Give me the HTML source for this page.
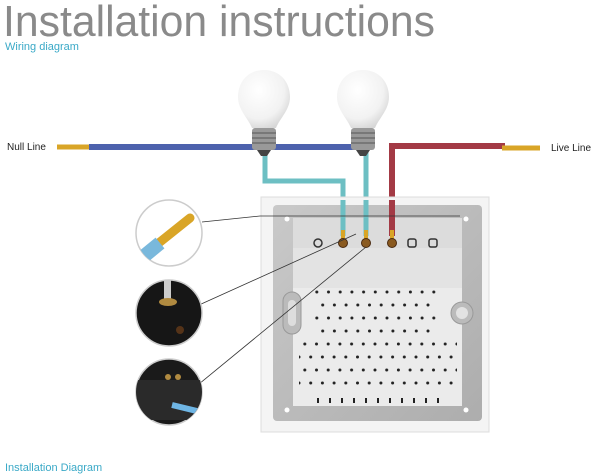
<!DOCTYPE html>
<html><head><meta charset="utf-8"><style>
html,body{margin:0;padding:0;background:#fff;width:600px;height:476px;overflow:hidden}
</style></head><body>
<svg width="600" height="476" viewBox="0 0 600 476" xmlns="http://www.w3.org/2000/svg">
<defs>
<radialGradient id="bulb" cx="0.4" cy="0.35" r="0.7"><stop offset="0" stop-color="#ffffff"/><stop offset="0.7" stop-color="#f2f2f2"/><stop offset="1" stop-color="#d6d6d6"/></radialGradient>
<pattern id="dotsA" x="311" y="287" width="11.7" height="26" patternUnits="userSpaceOnUse"><circle cx="5.8" cy="5" r="1.5" fill="#222"/><circle cx="0" cy="18" r="1.5" fill="#222"/><circle cx="11.7" cy="18" r="1.5" fill="#222"/></pattern>
<pattern id="dotsB" x="299" y="339" width="11.7" height="26" patternUnits="userSpaceOnUse"><circle cx="5.8" cy="5" r="1.5" fill="#222"/><circle cx="0" cy="18" r="1.5" fill="#222"/><circle cx="11.7" cy="18" r="1.5" fill="#222"/></pattern>
<linearGradient id="frame" x1="0" y1="0" x2="1" y2="1"><stop offset="0" stop-color="#c9c9c9"/><stop offset="1" stop-color="#adadad"/></linearGradient>
<clipPath id="c1"><circle cx="169" cy="233" r="33"/></clipPath>
<clipPath id="c2"><circle cx="169" cy="313" r="33"/></clipPath>
<clipPath id="c3"><circle cx="169" cy="392" r="33"/></clipPath>
</defs>
<text x="3" y="36" font-family="Liberation Sans, sans-serif" font-size="44" fill="#8a8a8a" textLength="432" lengthAdjust="spacingAndGlyphs">Installation instructions</text>
<text x="5" y="50" font-family="Liberation Sans, sans-serif" font-size="11" fill="#3aa9c7">Wiring diagram</text>
<text x="7" y="150" font-family="Liberation Sans, sans-serif" font-size="10" fill="#222">Null Line</text>
<text x="551" y="151" font-family="Liberation Sans, sans-serif" font-size="10" fill="#222">Live Line</text>
<rect x="57" y="144.5" width="32" height="5" fill="#d9a527"/>
<rect x="89" y="144" width="266" height="6" fill="#4d62ad"/>
<path d="M505 146 H392 V236" fill="none" stroke="#a33a45" stroke-width="6"/>
<rect x="502" y="145.5" width="38" height="5" fill="#d9a527"/>
<path d="M265 152 V181 H343 V236" fill="none" stroke="#6dbfc3" stroke-width="5"/>
<path d="M366 152 V236" fill="none" stroke="#6dbfc3" stroke-width="5"/>
<g>
<path d="M264 70 C248 70 238 82 238 97 C238 110 248 118 252 128 H276 C280 118 290 110 290 97 C290 82 280 70 264 70Z" fill="url(#bulb)"/>
<rect x="252" y="128" width="24" height="22" rx="3" fill="#999"/>
<g stroke="#666" stroke-width="1.2"><line x1="252" y1="133" x2="276" y2="133"/><line x1="252" y1="138" x2="276" y2="138"/><line x1="252" y1="143" x2="276" y2="143"/></g>
<path d="M257 150 H271 L267 156 H261Z" fill="#444"/>
</g>
<g>
<path d="M363 70 C347 70 337 82 337 97 C337 110 347 118 351 128 H375 C379 118 389 110 389 97 C389 82 379 70 363 70Z" fill="url(#bulb)"/>
<rect x="351" y="128" width="24" height="22" rx="3" fill="#999"/>
<g stroke="#666" stroke-width="1.2"><line x1="351" y1="133" x2="375" y2="133"/><line x1="351" y1="138" x2="375" y2="138"/><line x1="351" y1="143" x2="375" y2="143"/></g>
<path d="M356 150 H370 L366 156 H360Z" fill="#444"/>
</g>
<rect x="261" y="197" width="228" height="235" fill="#f4f4f4" stroke="#ddd"/>
<rect x="273" y="205" width="209" height="216" rx="4" fill="url(#frame)"/>
<rect x="293" y="218" width="169" height="188" fill="#ebebeb"/>
<rect x="293" y="218" width="169" height="30" fill="#dcdcdc"/>
<rect x="293" y="248" width="169" height="40" fill="#e3e3e3"/>
<rect x="340.5" y="200" width="5" height="36" fill="#6dbfc3"/>
<rect x="363.5" y="200" width="5" height="36" fill="#6dbfc3"/>
<rect x="389" y="200" width="6" height="36" fill="#a33a45"/>
<rect x="341" y="230" width="4" height="10" fill="#d9a527"/>
<rect x="364" y="230" width="4" height="10" fill="#d9a527"/>
<rect x="390" y="230" width="4" height="10" fill="#d9a527"/>
<circle cx="318" cy="243" r="4" fill="none" stroke="#333" stroke-width="1.5"/>
<circle cx="343" cy="243" r="4.5" fill="#8a5a20" stroke="#4a2a10"/>
<circle cx="366" cy="243" r="4.5" fill="#8a5a20" stroke="#4a2a10"/>
<circle cx="392" cy="243" r="4.5" fill="#8a5a20" stroke="#4a2a10"/>
<rect x="408" y="239" width="8" height="8" rx="2" fill="none" stroke="#333" stroke-width="1.5"/>
<rect x="429" y="239" width="8" height="8" rx="2" fill="none" stroke="#333" stroke-width="1.5"/>
<rect x="313" y="288" width="125" height="52" fill="url(#dotsA)"/>
<rect x="299" y="340" width="158" height="54" fill="url(#dotsB)"/>
<g fill="#222"><rect x="317" y="398" width="2" height="5"/><rect x="329" y="398" width="2" height="5"/><rect x="341" y="398" width="2" height="5"/><rect x="353" y="398" width="2" height="5"/><rect x="365" y="398" width="2" height="5"/><rect x="377" y="398" width="2" height="5"/><rect x="389" y="398" width="2" height="5"/><rect x="401" y="398" width="2" height="5"/><rect x="413" y="398" width="2" height="5"/><rect x="425" y="398" width="2" height="5"/><rect x="437" y="398" width="2" height="5"/></g>
<rect x="283" y="292" width="18" height="42" rx="9" fill="#bbb" stroke="#999"/>
<rect x="288" y="300" width="8" height="26" rx="4" fill="#ddd"/>
<circle cx="462" cy="313" r="11" fill="#bbb" stroke="#999"/>
<circle cx="462" cy="313" r="6" fill="#e2e2e2"/>
<circle cx="287" cy="219" r="2.5" fill="#fff"/><circle cx="466" cy="219" r="2.5" fill="#fff"/>
<circle cx="287" cy="410" r="2.5" fill="#fff"/><circle cx="466" cy="410" r="2.5" fill="#fff"/>
<g stroke="#333" stroke-width="0.8" fill="none">
<path d="M202 222 L260 216 H460"/>
<path d="M199 305 L356 234"/>
<path d="M199 384 L366 247"/>
</g>
<circle cx="169" cy="233" r="33" fill="#fff" stroke="#ccc" stroke-width="1.5"/>
<g clip-path="url(#c1)">
<path d="M150 250 L190 218" stroke="#d9a527" stroke-width="9" stroke-linecap="round"/>
<path d="M132 266 L160 243" stroke="#79b8dc" stroke-width="14"/>
</g>
<circle cx="169" cy="313" r="33" fill="#161616" stroke="#ccc" stroke-width="1.5"/>
<g clip-path="url(#c2)">
<rect x="164" y="278" width="7" height="22" fill="#ccc"/>
<ellipse cx="168" cy="302" rx="9" ry="4" fill="#b08a40"/>
<circle cx="180" cy="330" r="4" fill="#553318"/>
</g>
<circle cx="169" cy="392" r="33" fill="#1a1a1a" stroke="#ccc" stroke-width="1.5"/>
<g clip-path="url(#c3)">
<rect x="136" y="380" width="70" height="40" fill="#2a2a2a"/>
<circle cx="168" cy="377" r="3" fill="#b08a40"/><circle cx="178" cy="377" r="3" fill="#b08a40"/>
<path d="M172 405 L205 413" stroke="#6fb6e5" stroke-width="6"/>
</g>
<text x="5" y="471" font-family="Liberation Sans, sans-serif" font-size="11" fill="#3aa9c7">Installation Diagram</text>
</svg>
</body></html>
